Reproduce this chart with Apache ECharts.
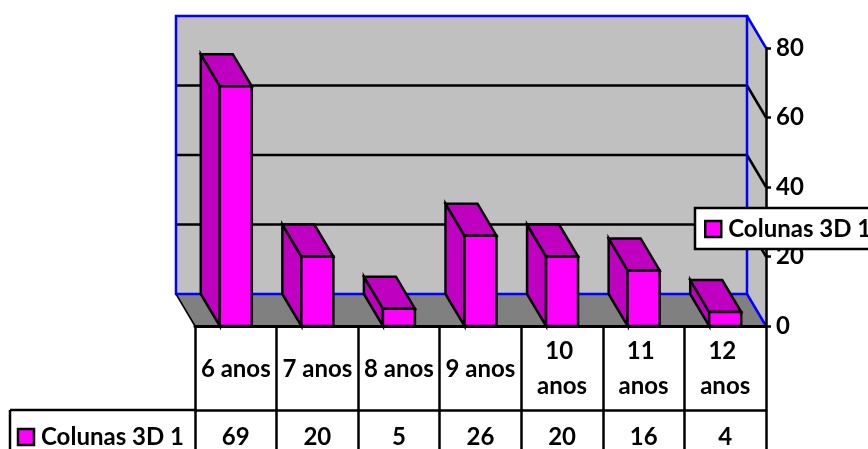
<!DOCTYPE html>
<html>
<head>
<meta charset="utf-8">
<style>
html, body { margin: 0; padding: 0; background: #fff; }
#main { width: 868px; height: 449px; }
</style>
<script src="https://cdn.jsdelivr.net/npm/echarts@6/dist/echarts.min.js"></script>
</head>
<body>
<div id="main"></div>
<script>
var categories = ['6 anos', '7 anos', '8 anos', '9 anos', '10 anos', '11 anos', '12 anos'];
var values = [69, 20, 5, 26, 20, 16, 4];
var yTicks = [20, 40, 60];
var seriesName = 'Colunas 3D 1';

var DX = -19, DY = -32;   // deslocamento da profundidade 3D
var BAR_W = 32;
var FONT = 'Lato';

var myChart = echarts.init(document.getElementById('main'));

function poly(points, fill, stroke, width) {
    return {
        type: 'polygon',
        shape: { points: points },
        style: { fill: fill, stroke: stroke, lineWidth: width, lineJoin: 'miter' }
    };
}
function line(x1, y1, x2, y2, stroke, width) {
    return {
        type: 'line',
        shape: { x1: x1, y1: y1, x2: x2, y2: y2 },
        style: { stroke: stroke, lineWidth: width }
    };
}

// paredes, chao e linhas de grade
function renderWalls(params, api) {
    var c = params.coordSys;
    var l = c.x, r = c.x + c.width, t = c.y, b = c.y + c.height;
    var children = [
        poly([[r + DX, t + DY], [r, t], [r, b], [r + DX, b + DY]], '#C0C0C0', null, 0),
        poly([[l + DX, t + DY], [r + DX, t + DY], [r + DX, b + DY], [l + DX, b + DY]], '#C0C0C0', null, 0),
        poly([[l + DX, b + DY], [r + DX, b + DY], [r, b], [l, b]], '#808080', null, 0)
    ];
    yTicks.forEach(function (v) {
        var y = api.coord([0, v])[1];
        children.push(line(l + DX, y + DY, r + DX, y + DY, '#000', 2.5));
        children.push(line(r + DX, y + DY, r, y, '#000', 2.5));
    });
    children.push(line(l + DX, b + DY, l, b, '#000', 1.5));
    children.push(poly([[l + DX, t + DY], [r + DX, t + DY], [r + DX, b + DY], [l + DX, b + DY]], 'none', '#0000FF', 2.5));
    children.push(line(r + DX, t + DY, r, t, '#0000FF', 2.5));
    children.push(line(r + DX, b + DY, r, b, '#0000FF', 2.5));
    return { type: 'group', children: children };
}

// coluna 3D
function renderBar(params, api) {
    var base = api.coord([api.value(0), 0]);
    var top = api.coord([api.value(0), api.value(1)]);
    var x0 = base[0] - BAR_W / 2, x1 = base[0] + BAR_W / 2;
    var y0 = base[1], y1 = top[1];
    return {
        type: 'group',
        children: [
            poly([[x0 + DX, y0 + DY], [x0, y0], [x0, y1], [x0 + DX, y1 + DY]], '#C000C0', '#000', 2.5),
            poly([[x0 + DX, y1 + DY], [x1 + DX, y1 + DY], [x1, y1], [x0, y1]], '#C000C0', '#000', 2.5),
            poly([[x0, y1], [x1, y1], [x1, y0], [x0, y0]], '#FF00FF', '#000', 2.5)
        ]
    };
}

var labelStyle = { color: '#000', fontFamily: FONT, fontWeight: 'bold', fontSize: 24 };

var option = {
    animation: false,
    backgroundColor: '#fff',
    grid: { left: 195, top: 48, width: 571, height: 278, containLabel: false },
    legend: {
        data: [seriesName],
        left: 695,
        top: 208,
        orient: 'horizontal',
        backgroundColor: '#fff',
        borderColor: '#000',
        borderWidth: 2.5,
        borderRadius: 0,
        padding: [9, 8, 8, 9],
        itemWidth: 16,
        itemHeight: 16,
        itemGap: 0,
        icon: 'rect',
        selectedMode: false,
        itemStyle: { color: '#FF00FF', borderColor: '#000', borderWidth: 2.5 },
        textStyle: { color: '#000', fontFamily: FONT, fontWeight: 'bold', fontSize: 24, padding: [0, 0, 0, 2] }
    },
    xAxis: [
        {
            type: 'category',
            data: categories,
            z: 3,
            axisLine: { show: true, lineStyle: { color: '#000', width: 3 } },
            axisTick: { show: true, length: 123, lineStyle: { color: '#000', width: 2.5 } },
            axisLabel: Object.assign({
                interval: 0, margin: 43, verticalAlign: 'middle', width: 76, overflow: 'break', lineHeight: 35
            }, labelStyle)
        },
        {
            type: 'category',
            position: 'bottom',
            offset: 84,
            data: values.map(String),
            z: 3,
            axisLine: { show: true, onZero: false, lineStyle: { color: '#000', width: 2.5 } },
            axisTick: { show: false },
            axisLabel: Object.assign({ interval: 0, margin: 27, verticalAlign: 'middle' }, labelStyle)
        }
    ],
    yAxis: {
        type: 'value',
        position: 'right',
        min: 0,
        max: 80,
        interval: 20,
        z: 3,
        axisLine: { show: true, lineStyle: { color: '#000', width: 2.5 } },
        axisTick: { show: true, length: 5, lineStyle: { color: '#000', width: 2.5 } },
        axisLabel: Object.assign({ margin: 10 }, labelStyle),
        splitLine: { show: false }
    },
    graphic: [
        { type: 'line', z: 5, shape: { x1: 10, y1: 410, x2: 195, y2: 410 }, style: { stroke: '#000', lineWidth: 2.5 } },
        { type: 'line', z: 5, shape: { x1: 10, y1: 410, x2: 10, y2: 449 }, style: { stroke: '#000', lineWidth: 2.5 } },
        { type: 'rect', z: 5, shape: { x: 18, y: 429, width: 16, height: 16 }, style: { fill: '#FF00FF', stroke: '#000', lineWidth: 2.5 } },
        { type: 'text', z: 5, x: 41, y: 437, style: { text: seriesName, fill: '#000', font: 'bold 24px ' + FONT, verticalAlign: 'middle' } }
    ],
    series: [
        {
            name: 'paredes',
            type: 'custom',
            renderItem: renderWalls,
            silent: true,
            z: 1,
            clip: false,
            data: [[0, 0]]
        },
        {
            name: seriesName,
            type: 'custom',
            renderItem: renderBar,
            z: 2,
            clip: false,
            encode: { x: 0, y: 1 },
            data: values.map(function (v, i) { return [i, v]; })
        }
    ]
};

myChart.setOption(option);
</script>
</body>
</html>
